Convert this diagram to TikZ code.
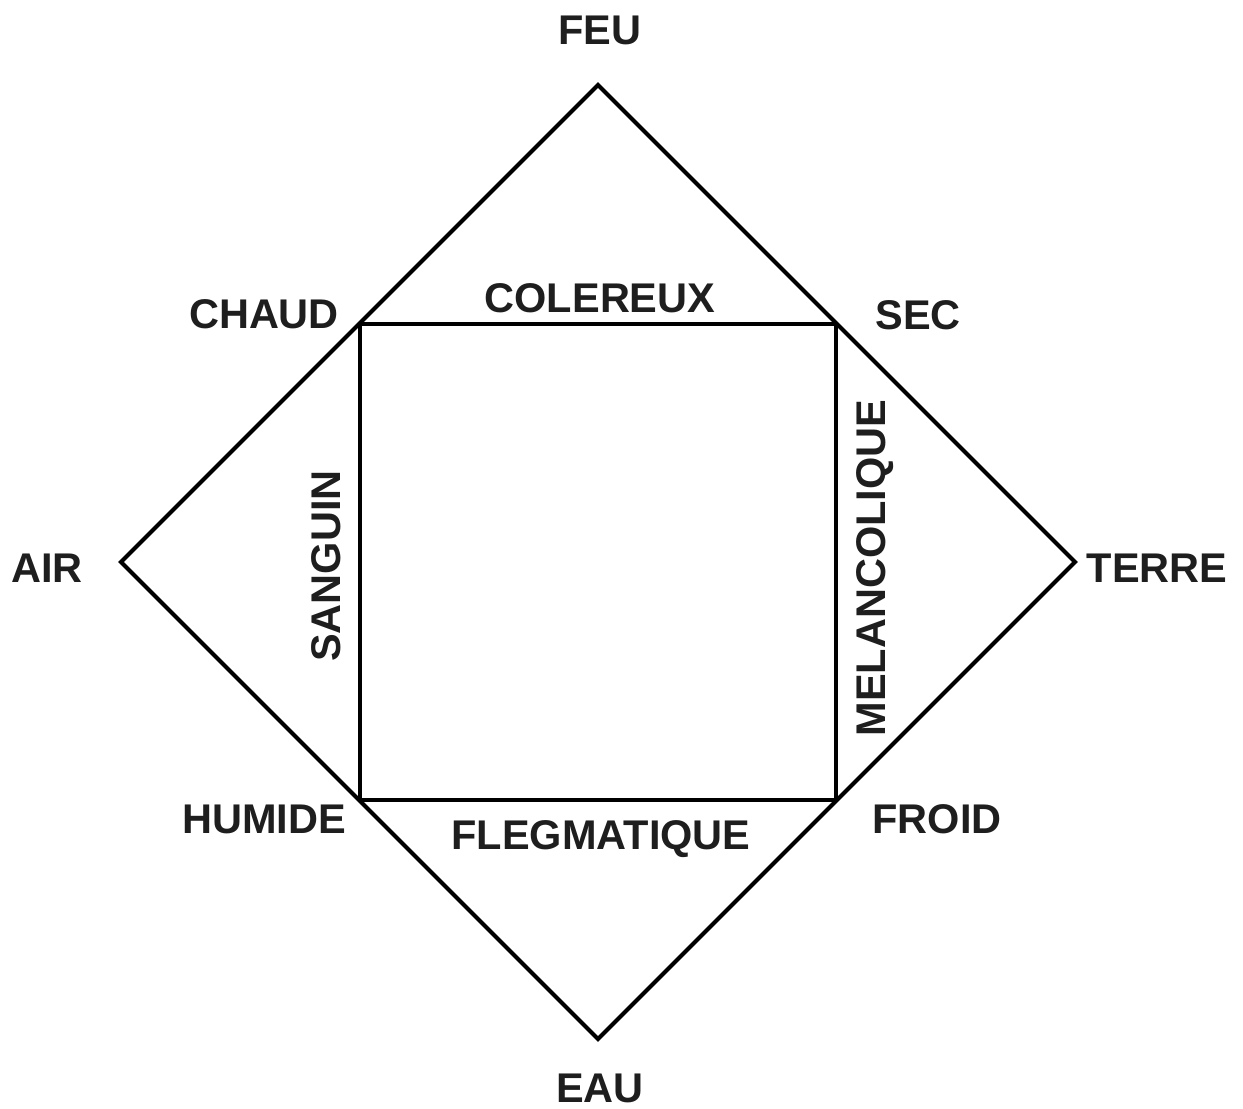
\documentclass[tikz,border=0pt]{standalone}
\usepackage{fontspec}
\setmainfont{Liberation Sans}
\definecolor{ink}{RGB}{30,30,30}
\begin{document}
\begin{tikzpicture}[x=1pt,y=-1pt,
  lbl/.style={anchor=base,inner sep=0pt,text=ink,font=\fontsize{41.5}{41.5}\selectfont\bfseries},
  edge/.style={line width=4pt,line join=miter,draw=black}]
\useasboundingbox (0,0) rectangle (1243,1109);
% diamond vertices
\coordinate (T) at (598,85);
\coordinate (R) at (1075,562);
\coordinate (B) at (598,1039);
\coordinate (L) at (121,562);
% square corners
\coordinate (s1) at (360,324);
\coordinate (s2) at (836,324);
\coordinate (s3) at (836,800);
\coordinate (s4) at (360,800);
\draw[edge] (T) -- (R) -- (B) -- (L) -- cycle;
\draw[edge] (s1) -- (s2) -- (s3) -- (s4) -- cycle;
% labels
\node[lbl] (feu) at (600,44) {FEU};
\node[lbl] (eau) at (600,1102) {EAU};
\node[lbl] (air) at (47,582) {AIR};
\node[lbl] (terre) at (1157,582) {TERRE};
\node[lbl] (chaud) at (264,328) {CHAUD};
\node[lbl] (sec) at (918,329) {SEC};
\node[lbl] (humide) at (264,833) {HUMIDE};
\node[lbl] (froid) at (937,833) {FROID};
\node[lbl] (colereux) at (600,312) {COLEREUX};
\node[lbl] (flegm) at (601,849) {FLEGMATIQUE};
\node[lbl,rotate=90] (sanguin) at (340,566) {SANGUIN};
\node[lbl,rotate=90] (melanc) at (885,568) {MELANCOLIQUE};
\end{tikzpicture}
\end{document}
